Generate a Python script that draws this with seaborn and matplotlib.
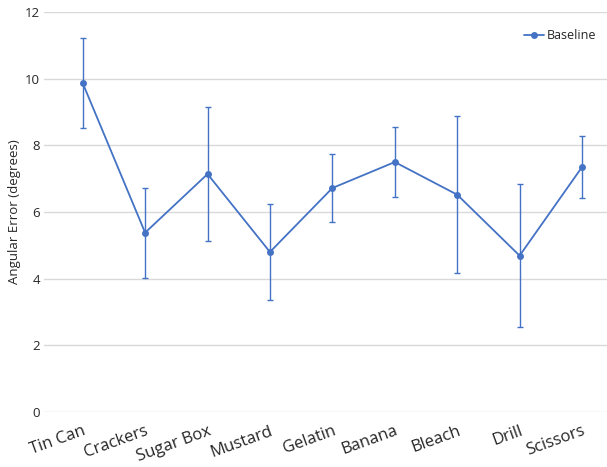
import matplotlib
matplotlib.use("Agg")
import matplotlib.pyplot as plt
import seaborn as sns
import pandas as pd

categories = ["Tin Can", "Crackers", "Sugar Box", "Mustard", "Gelatin",
              "Banana", "Bleach", "Drill", "Scissors"]
baseline = [9.87, 5.38, 7.14, 4.80, 6.72, 7.50, 6.52, 4.69, 7.35]
errors = [1.36, 1.35, 2.00, 1.45, 1.02, 1.04, 2.36, 2.15, 0.94]
yticks = [0, 2, 4, 6, 8, 10, 12]

sns.set_theme(style="white")
plt.rcParams['font.family'] = ['Open Sans', 'DejaVu Sans']

color = "#4472C4"
df = pd.DataFrame({"Object": categories, "Error": baseline, "Series": "Baseline"})

fig = plt.figure(figsize=(6.07, 4.67), dpi=100)
ax = fig.add_axes([0.0725, 0.118, 0.9275, 0.856])

ax.errorbar(range(len(categories)), baseline, yerr=errors, fmt="none",
            ecolor=color, elinewidth=1.0, capsize=2.5, capthick=1.0, zorder=2)
sns.lineplot(data=df, x=range(len(categories)), y="Error", hue="Series",
             palette=[color], marker="o", markersize=5, markeredgewidth=0,
             linewidth=1.3, ax=ax, zorder=3)

ax.set_ylim(0, 12)
ax.set_xlim(-0.62, 8.4)
ax.set_yticks(yticks)
ax.set_yticklabels([str(t) for t in yticks], fontsize=9.5)
ax.set_xticks(range(len(categories)))
ax.set_xticklabels(categories, rotation=20, ha="right", rotation_mode="anchor",
                   fontsize=12)
ax.tick_params(axis="x", pad=8, length=0)
ax.tick_params(axis="y", pad=3, length=0)
ax.grid(axis="y", color="#D9D9D9", linewidth=1)
ax.set_axisbelow(True)
for s in ax.spines.values():
    s.set_visible(False)
ax.set_xlabel("")
ax.set_ylabel("Angular Error (degrees)", fontsize=9.5)
ax.yaxis.set_label_coords(-0.041, 0.5)

leg = ax.legend(loc="upper right", frameon=False, fontsize=9,
                handlelength=1.6, handletextpad=0.2, bbox_to_anchor=(1.0, 0.985))
for t in leg.get_texts():
    t.set_text("Baseline")

fig.savefig("out.png", dpi=100)
